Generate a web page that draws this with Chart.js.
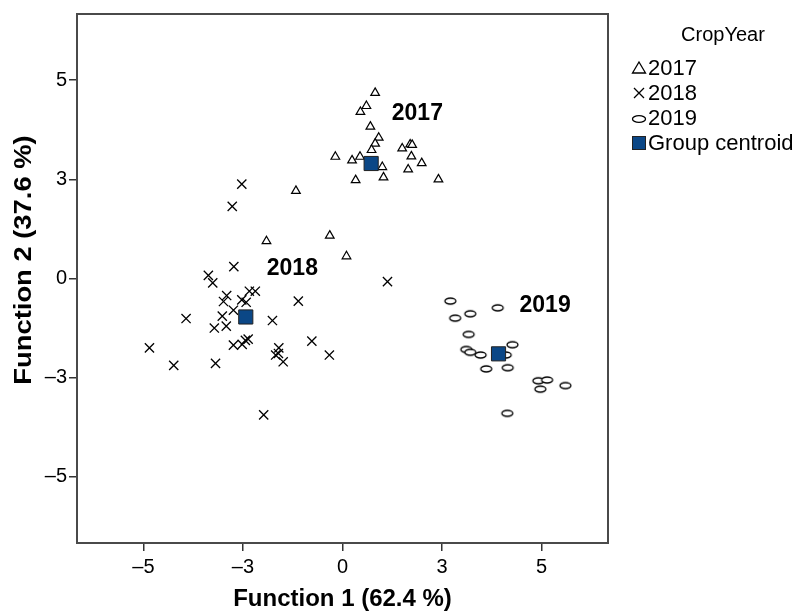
<!DOCTYPE html>
<html>
<head>
<meta charset="utf-8">
<title>Canonical discriminant functions</title>
<script src="https://cdn.jsdelivr.net/npm/chart.js@4/dist/chart.umd.min.js"></script>
<style>
  html, body { margin: 0; padding: 0; background: #fff; }
  #wrap { width: 795px; height: 612px; position: relative; }
</style>
</head>
<body>
<div id="wrap"><canvas id="chart" width="795" height="612"></canvas></div>
<script>
// Discriminant scores per crop year (Function 1, Function 2)
const groups = ['2017', '2018', '2019'];

const f1_2017 = [0.82, 0.60, 0.45, 0.70, 0.91, 0.82, 0.73, -0.18, 0.24, 0.44, 1.00, 0.33, 1.03, 1.50, 1.70, 1.75, 1.73, 1.99, 1.65, 2.41, -1.17, -1.91, -0.32, 0.10];
const f2_2017 = [4.68, 4.35, 4.20, 3.83, 3.55, 3.40, 3.24, 3.07, 2.98, 3.07, 2.81, 2.48, 2.55, 3.28, 3.38, 3.37, 3.08, 2.91, 2.75, 2.50, 2.21, 0.94, 1.08, 0.56];

const f1_2018 = [-2.53, -2.77, -2.73, -3.37, -3.26, -2.91, -2.99, -2.34, -2.19, -2.53, -2.42, -2.74, -3.02, -3.93, -3.22, -2.92, -1.11, -1.76, -2.74, -2.52, -2.44, -2.37, -1.60, -1.68, -1.61, -1.49, -0.77, -0.33, -4.85, -4.24, -3.19, -1.98, 1.13];
const f2_2018 = [2.38, 1.82, 0.30, 0.08, -0.11, -0.43, -0.58, -0.32, -0.32, -0.54, -0.60, -0.80, -0.95, -1.01, -1.25, -1.20, -0.57, -1.06, -1.68, -1.66, -1.56, -1.53, -1.75, -1.93, -1.89, -2.10, -1.58, -1.93, -1.75, -2.19, -2.14, -3.44, -0.08];

const f1_2019 = [2.71, 3.90, 3.21, 2.83, 3.17, 4.27, 3.11, 3.21, 3.47, 4.10, 3.61, 4.15, 4.92, 5.14, 4.97, 5.60, 4.14];
const f2_2019 = [-0.57, -0.74, -0.89, -1.00, -1.41, -1.67, -1.79, -1.86, -1.93, -1.93, -2.28, -2.25, -2.58, -2.56, -2.79, -2.70, -3.40];

// Group centroids, in the order of `groups`
const centroidF1 = [0.72, -2.43, 3.92];
const centroidF2 = [2.90, -0.97, -1.90];

// Group label anchor positions (data units)
const labelF1 = [1.88, -1.26, 5.09];
const labelF2 = [4.15, 0.26, -0.68];

// Axis ticks
const tickValues = [-5, -2.5, 0, 2.5, 5];
const tickLabels = ['\u20135', '\u20133', '0', '3', '5'];

const axisMin = -6.67, axisMax = 6.67;
const fontFamily = '"Liberation Sans", Arial, Helvetica, sans-serif';
const centroidColor = '#0b4786';

const toPoints = (xs, ys) => xs.map((x, i) => ({ x: x, y: ys[i] }));

// Open ellipse marker
function ellipseMarker(w, h, lw) {
  const c = document.createElement('canvas');
  c.width = w + 4; c.height = h + 4;
  const g = c.getContext('2d');
  g.lineWidth = lw;
  g.strokeStyle = '#000';
  g.fillStyle = '#fff';
  g.beginPath();
  g.ellipse(c.width / 2, c.height / 2, w / 2, h / 2, 0, 0, Math.PI * 2);
  g.fill();
  g.stroke();
  return c;
}
const ellipseImg = ellipseMarker(11, 6, 1.3);

function tickCallback(value) {
  const i = tickValues.indexOf(value);
  return i >= 0 ? tickLabels[i] : '';
}

const axisCommon = {
  type: 'linear',
  min: axisMin,
  max: axisMax,
  afterBuildTicks: (scale) => { scale.ticks = tickValues.map(v => ({ value: v })); },
  grid: { display: true, drawOnChartArea: false, drawTicks: true, tickLength: 8, color: '#333', lineWidth: 1.5 },
  border: { display: false }
};

// Frame, axis titles, group labels and legend
const decorations = {
  id: 'decorations',
  afterDraw(chart) {
    const { ctx, chartArea: a, scales } = chart;
    ctx.save();

    ctx.strokeStyle = '#4a4a4a';
    ctx.lineWidth = 2;
    ctx.strokeRect(a.left, a.top, a.right - a.left, a.bottom - a.top);

    ctx.fillStyle = '#000';
    ctx.font = 'bold 23px ' + fontFamily;
    ctx.textAlign = 'center';
    ctx.textBaseline = 'middle';
    groups.forEach((g, i) => {
      ctx.fillText(g, scales.x.getPixelForValue(labelF1[i]), scales.y.getPixelForValue(labelF2[i]));
    });

    ctx.font = 'bold 24px ' + fontFamily;
    ctx.fillText('Function 1 (62.4 %)', (a.left + a.right) / 2, 599);
    ctx.save();
    ctx.translate(24, 260);
    ctx.rotate(-Math.PI / 2);
    ctx.scale(1.14, 1);
    ctx.fillText('Function 2 (37.6 %)', 0, 0);
    ctx.restore();

    // Legend
    ctx.font = '20px ' + fontFamily;
    ctx.textAlign = 'center';
    ctx.fillText('CropYear', 723, 35);

    const items = ['2017', '2018', '2019', 'Group centroid'];
    const rowY = [68, 93, 118, 143];
    const sx = 639, tx = 648;
    ctx.font = '22px ' + fontFamily;
    ctx.textAlign = 'left';
    items.forEach((t, i) => {
      const y = rowY[i];
      ctx.lineWidth = 1.3;
      ctx.strokeStyle = '#000';
      if (i === 0) {
        ctx.beginPath();
        ctx.moveTo(sx, y - 6);
        ctx.lineTo(sx + 6.5, y + 5);
        ctx.lineTo(sx - 6.5, y + 5);
        ctx.closePath();
        ctx.stroke();
      } else if (i === 1) {
        ctx.beginPath();
        ctx.moveTo(sx - 5, y - 5); ctx.lineTo(sx + 5, y + 5);
        ctx.moveTo(sx + 5, y - 5); ctx.lineTo(sx - 5, y + 5);
        ctx.stroke();
      } else if (i === 2) {
        ctx.beginPath();
        ctx.ellipse(sx, y + 1, 6.5, 3.4, 0, 0, Math.PI * 2);
        ctx.stroke();
      } else {
        ctx.fillStyle = centroidColor;
        ctx.fillRect(sx - 6.5, y - 6.5, 13, 13);
        ctx.lineWidth = 1;
        ctx.strokeStyle = '#222';
        ctx.strokeRect(sx - 6.5, y - 6.5, 13, 13);
        ctx.fillStyle = '#000';
      }
      ctx.fillText(t, tx, y + 1);
    });

    ctx.restore();
  }
};

new Chart(document.getElementById('chart'), {
  type: 'scatter',
  data: {
    datasets: [
      {
        label: 'Group centroid',
        data: toPoints(centroidF1, centroidF2),
        pointStyle: 'rect',
        radius: 10,
        backgroundColor: centroidColor,
        borderColor: '#222',
        borderWidth: 1
      },
      {
        label: groups[0],
        data: toPoints(f1_2017, f2_2017),
        pointStyle: 'triangle',
        radius: 5,
        backgroundColor: '#fff',
        borderColor: '#000',
        borderWidth: 1.2
      },
      {
        label: groups[1],
        data: toPoints(f1_2018, f2_2018),
        pointStyle: 'crossRot',
        radius: 6.5,
        borderColor: '#000',
        borderWidth: 1.3
      },
      {
        label: groups[2],
        data: toPoints(f1_2019, f2_2019),
        pointStyle: ellipseImg,
        radius: 6
      }
    ]
  },
  options: {
    responsive: false,
    devicePixelRatio: 1,
    animation: false,
    layout: { padding: { top: 12, right: 187, left: 0, bottom: 0 } },
    plugins: { legend: { display: false }, tooltip: { enabled: false } },
    events: [],
    scales: {
      x: Object.assign({}, axisCommon, {
        position: 'bottom',
        afterFit: (s) => { s.height = 69; },
        ticks: { callback: tickCallback, padding: 4, color: '#000', maxRotation: 0, autoSkip: false,
                 font: { family: fontFamily, size: 20 } }
      }),
      y: Object.assign({}, axisCommon, {
        position: 'left',
        afterFit: (s) => { s.width = 77; },
        ticks: { callback: tickCallback, padding: 2, color: '#000', autoSkip: false,
                 font: { family: fontFamily, size: 20 } }
      })
    }
  },
  plugins: [decorations]
});
</script>
</body>
</html>
